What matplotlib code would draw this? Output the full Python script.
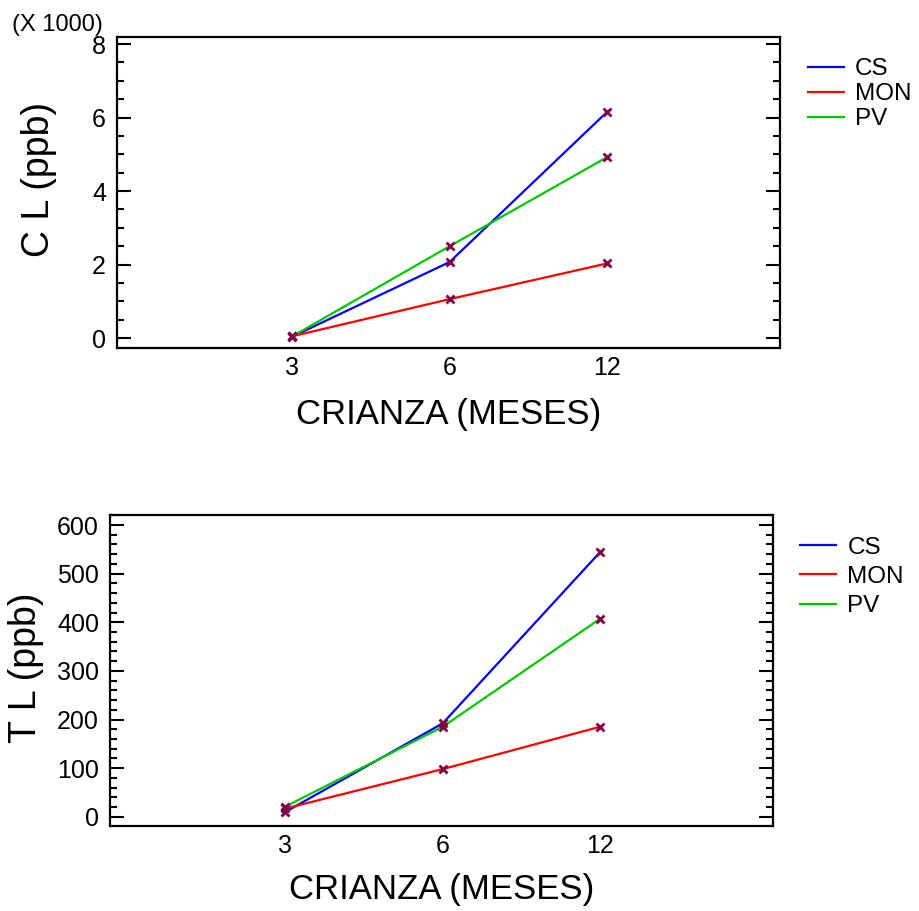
"""CL and TL vs crianza (months), two panels."""

import matplotlib.pyplot as plt
import numpy as np
from matplotlib.ticker import MultipleLocator

plt.rcParams["font.family"] = ["Liberation Sans", "DejaVu Sans"]

meses = ["3", "6", "12"]
series = ["CS", "MON", "PV"]
colors = ["#0000ff", "#ff0000", "#00c800"]

# CL in ppb x 1000
cl_cs = [0.04, 2.07, 6.15]
cl_mon = [0.05, 1.06, 2.03]
cl_pv = [0.05, 2.50, 4.92]

# TL in ppb
tl_cs = [10, 192, 544]
tl_mon = [17, 98, 185]
tl_pv = [21, 185, 407]

marker_color = "#800048"


def draw_panel(ax, values, ylim, major, minor, ylabel, ylabel_x, ylabel_y, xlabel_y,
               leg_anchor, leg_spacing, fig):
    pos = np.arange(1, len(meses) + 1)
    for vals, name, col in zip(values, series, colors):
        ax.plot(pos, vals, color=col, linewidth=1.6, label=name, zorder=2)
    for vals in values:
        ax.plot(pos, vals, linestyle="none", marker="x", markersize=6,
                markeredgewidth=2, color=marker_color, zorder=3)

    ax.set_xlim(-0.115, 4.1)
    ax.set_ylim(*ylim)
    ax.set_xticks(pos)
    ax.set_xticklabels(meses)
    ax.yaxis.set_major_locator(MultipleLocator(major))
    ax.yaxis.set_minor_locator(MultipleLocator(minor))
    ax.tick_params(axis="x", length=0, labelsize=18, pad=6)
    ax.tick_params(axis="y", which="major", direction="in", length=10, width=1.5,
                   labelsize=18, pad=8, right=True)
    ax.tick_params(axis="y", which="minor", direction="in", length=5, width=1.5, right=True)
    for sp in ax.spines.values():
        sp.set_linewidth(1.6)

    ax.set_ylabel(ylabel, fontsize=27)
    ax.yaxis.set_label_coords(ylabel_x, ylabel_y)
    ax.set_xlabel("CRIANZA (MESES)", fontsize=25)
    ax.xaxis.set_label_coords(0.5, xlabel_y)

    ax.legend(loc="upper left", bbox_to_anchor=leg_anchor, bbox_transform=fig.transFigure,
              frameon=False, fontsize=17.5, handlelength=1.5, handletextpad=0.45,
              borderpad=0, borderaxespad=0, labelspacing=leg_spacing)


fig = plt.figure(figsize=(9.19, 9.11), dpi=100)
ax1 = fig.add_axes([0.1273, 0.618, 0.7214, 0.3417])
ax2 = fig.add_axes([0.1197, 0.0933, 0.7214, 0.3414])

draw_panel(ax1, [cl_cs, cl_mon, cl_pv], (-0.27, 8.2), 2, 0.5, "C L (ppb)",
           -0.09, 0.54, -0.16, (0.879, 0.936), 0.12, fig)
draw_panel(ax2, [tl_cs, tl_mon, tl_pv], (-19, 620.6), 100, 20, "T L (ppb)",
           -0.1, 0.51, -0.15, (0.8705, 0.411), 0.3, fig)

fig.text(0.013, 1 - 25 / 911, "(X 1000)", fontsize=17, ha="left", va="center")

fig.savefig("out.png", dpi=100)
plt.close(fig)
